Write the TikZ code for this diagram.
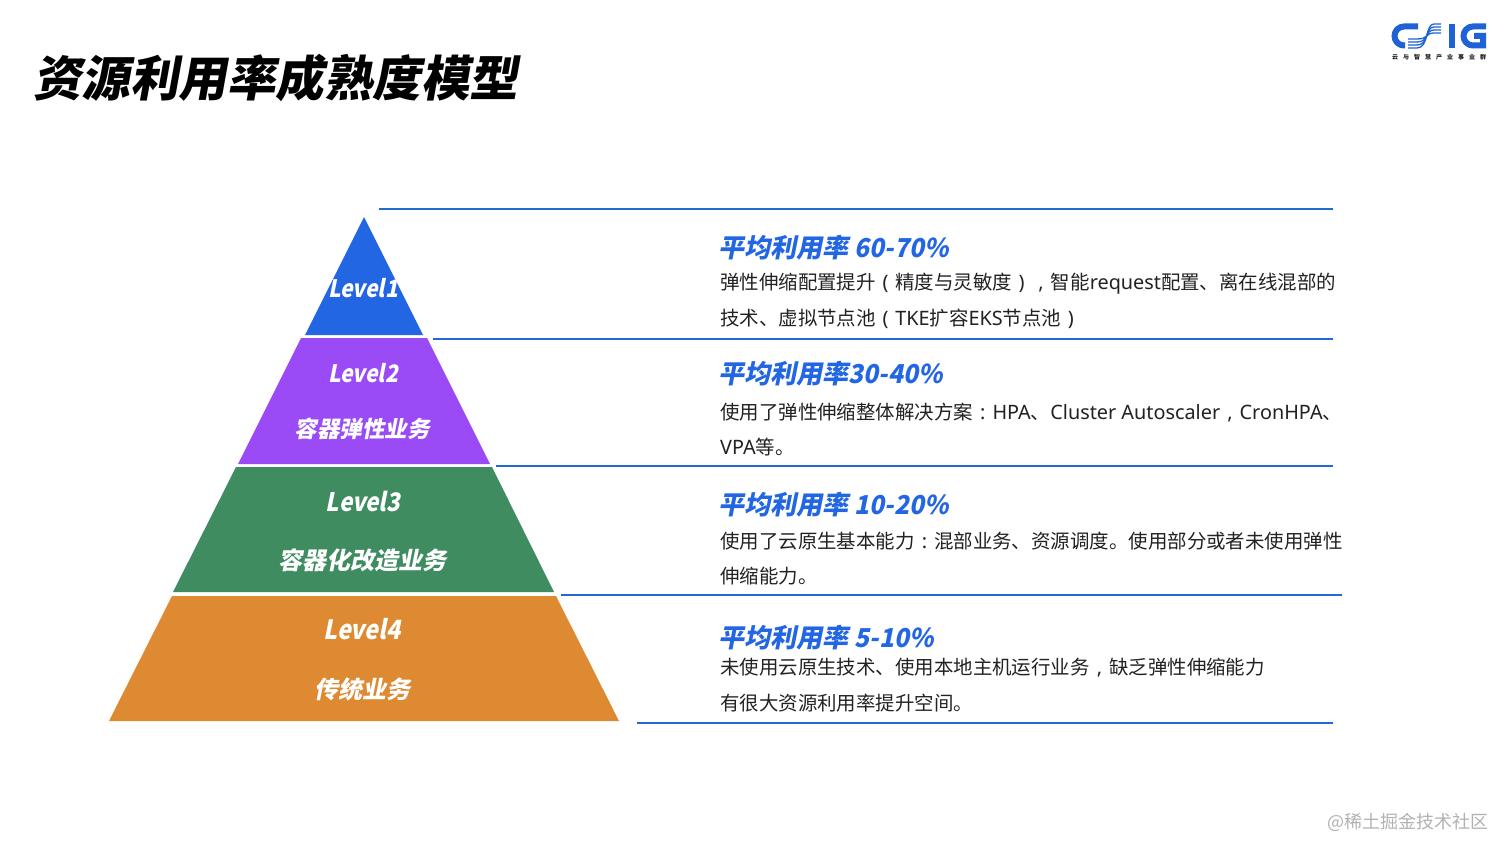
\documentclass[tikz,border=0pt]{standalone}
\usepackage{fontspec}
\setmainfont{Noto Sans CJK SC}
\newfontfamily\slantfont[FakeSlant=0.2]{Noto Sans CJK SC}
\newfontfamily\titlefont[FakeSlant=0.18]{Noto Sans CJK SC Black}
\newfontfamily\levelfont[FakeSlant=0.2,FakeStretch=0.88]{Noto Sans CJK SC}
\newfontfamily\numfont[FakeSlant=0.2,FakeStretch=0.95]{Noto Sans CJK SC}
\newfontfamily\latinfont[Scale=1.02]{Noto Sans}
\newcommand{\lat}[1]{{\latinfont #1}}
\newcommand{\fw}[1]{\makebox[1em][c]{\latinfont #1}}
\newcommand{\hnum}[1]{{\numfont\bfseries #1}}
\definecolor{cblue}{HTML}{2266E3}
\definecolor{cline}{HTML}{2468D6}
\definecolor{cpurple}{HTML}{9A4BF5}
\definecolor{cgreen}{HTML}{3F8C60}
\definecolor{corange}{HTML}{DE8A32}
\definecolor{cbody}{HTML}{222222}
\definecolor{clogo}{HTML}{1F62D8}
\tikzset{
  rule/.style={draw=cline,line width=1.1pt},
  tier/.style={draw=none},
  lvl/.style={anchor=center,inner sep=0pt,text=white,font=\levelfont\bfseries\fontsize{24}{28}\selectfont},
  lvlzh/.style={anchor=center,inner sep=0pt,text=white,font=\slantfont\bfseries\fontsize{24}{28}\selectfont},
  head/.style={anchor=west,inner sep=0pt,text=cblue,font=\slantfont\bfseries\fontsize{26}{30}\selectfont},
  body/.style={anchor=west,inner sep=0pt,text=cbody,font=\fontsize{19.45}{24}\selectfont},
  logostroke/.style={draw=clogo,line width=6pt},
  sline/.style={draw=clogo,line width=1.3pt}
}
\begin{document}
\begin{tikzpicture}[x=1pt,y=-1pt]
\useasboundingbox[fill=white] (0,0) rectangle (1512,856);
% title
\node[anchor=west,inner sep=0pt,text=black,font=\titlefont\fontsize{48.5}{54}\selectfont] (title) at (33,78) {资源利用率成熟度模型};
% pyramid
\fill[tier,cblue] (364,217) -- (423,335) -- (305,335) -- cycle;
\fill[tier,cpurple] (301,338) -- (427,338) -- (490,464) -- (238,464) -- cycle;
\fill[tier,cgreen] (236,467) -- (492,467) -- (554,592) -- (173,592) -- cycle;
\fill[tier,corange] (172,596) -- (556,596) -- (619,721) -- (109,721) -- cycle;
\node[lvl] (l1) at (363,288) {Level1};
\node[lvl] (l2) at (363,373) {Level2};
\node[lvlzh,font=\slantfont\bfseries\fontsize{22.5}{28}\selectfont] (l2b) at (362,429) {容器弹性业务};
\node[lvl,font=\levelfont\bfseries\fontsize{25.5}{28}\selectfont] (l3) at (363,501) {Level3};
\node[lvlzh] (l3b) at (362,560) {容器化改造业务};
\node[lvl,font=\levelfont\bfseries\fontsize{26.5}{28}\selectfont] (l4) at (362,629) {Level4};
\node[lvlzh] (l4b) at (362,689) {传统业务};
% rules
\coordinate (r1a) at (379,209); \coordinate (r1b) at (1333,209);
\coordinate (r2a) at (433,339); \coordinate (r2b) at (1333,339);
\coordinate (r3a) at (496,466); \coordinate (r3b) at (1333,466);
\coordinate (r4a) at (561,595); \coordinate (r4b) at (1342,595);
\coordinate (r5a) at (637,723); \coordinate (r5b) at (1333,723);
\draw[rule] (r1a) -- (r1b);
\draw[rule] (r2a) -- (r2b);
\draw[rule] (r3a) -- (r3b);
\draw[rule] (r4a) -- (r4b);
\draw[rule] (r5a) -- (r5b);
% right text
\node[head] (h1) at (718.5,248) {平均利用率 \hnum{60-70\%}};
\node[body] (b1a) at (720,283.5) {弹性伸缩配置提升\fw{(}精度与灵敏度\fw{)}\fw{,}智能\lat{request}配置、离在线混部的};
\node[body] (b1b) at (720,318.5) {技术、虚拟节点池\fw{(}\lat{TKE}扩容\lat{EKS}节点池\fw{)}};
\node[head] (h2) at (718.5,374) {平均利用率\hnum{30-40\%}};
\node[body] (b2a) at (720,413) {使用了弹性伸缩整体解决方案\fw{:}\lat{HPA}、\lat{Cluster Autoscaler}\fw{,}\lat{CronHPA}、};
\node[body] (b2b) at (720,447.5) {\lat{VPA}等。};
\node[head] (h3) at (718.5,505) {平均利用率 \hnum{10-20\%}};
\node[body] (b3a) at (720,541.5) {使用了云原生基本能力\fw{:}混部业务、资源调度。使用部分或者未使用弹性};
\node[body] (b3b) at (720,576.5) {伸缩能力。};
\node[head] (h4) at (718.5,638) {平均利用率 \hnum{5-10\%}};
\node[body] (b4a) at (720,667.5) {未使用云原生技术、使用本地主机运行业务\fw{,}缺乏弹性伸缩能力};
\node[body] (b4b) at (720,703.5) {有很大资源利用率提升空间。};
% logo
\draw[logostroke] (1418,26.5) -- (1404,26.5) arc[start angle=-90,end angle=-270,radius=9.5] -- (1405,45.5);
\foreach \d in {0,3,6,9}{
  \draw[sline] (1441,{24+\d}) -- (1434,{24+\d}) .. controls (1425,{24+\d}) and (1429,{48-\d}) .. (1417,{48-\d}) -- (1408,{48-\d});
}
\fill[clogo] (1449,24) rectangle (1455,48);
\draw[logostroke] (1486,26.5) -- (1473,26.5) arc[start angle=-90,end angle=-270,radius=9.5] -- (1483,45.5) -- (1483,36) -- (1474,36);
\node[inner sep=0pt,text=cbody,font=\bfseries\fontsize{6}{7}\selectfont] (logotext) at (1439,57) {云\hspace{5pt}与\hspace{5pt}智\hspace{5pt}慧\hspace{5pt}产\hspace{5pt}业\hspace{5pt}事\hspace{5pt}业\hspace{5pt}群};
% watermark
\node[anchor=east,inner sep=0pt,text=black!30,font=\fontsize{18}{22}\selectfont] (wm) at (1489,822.5) {@稀土掘金技术社区};
\end{tikzpicture}
\end{document}
